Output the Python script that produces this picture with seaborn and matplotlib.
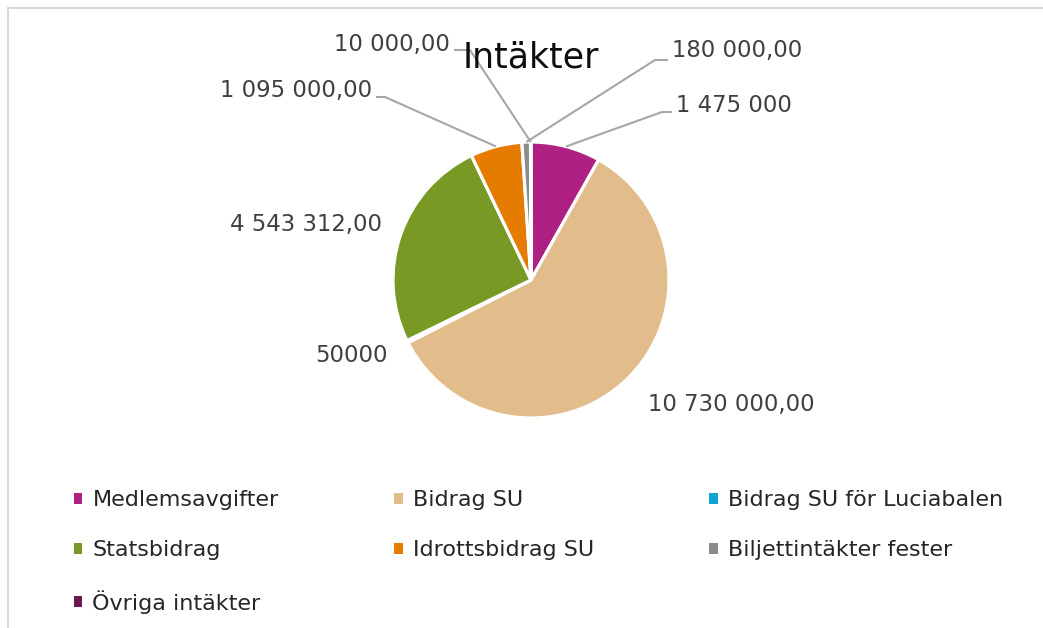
import matplotlib
matplotlib.use("Agg")
import matplotlib.pyplot as plt
import numpy as np
import seaborn as sns
from matplotlib.patches import Patch, Rectangle

# ---- data ----
categories = ["Medlemsavgifter", "Bidrag SU", "Bidrag SU för Luciabalen",
              "Statsbidrag", "Idrottsbidrag SU", "Biljettintäkter fester",
              "Övriga intäkter"]
values = [1475000, 10730000, 50000, 4543312, 1095000, 180000, 10000]
value_labels = ["1 475 000", "10 730 000,00", "50000", "4 543 312,00",
                "1 095 000,00", "180 000,00", "10 000,00"]
colors = ["#AE2183", "#E2BC8B", "#0FA3D6", "#789A25", "#E57C00", "#8C8C8C", "#6B1752"]

# ---- layout (pixels) ----
W, H = 1043, 628
CX, CY, R = 531, 280, 138

def px(x, y):
    # pixel position -> data coords (pie radius = 1)
    return (x - CX) / R, (CY - y) / R

# text x, text y, alignment, leader elbow (or None)
label_layout = [
    (676, 105, "left", (662, 112)),
    (648, 405, "left", None),
    (388, 355, "right", None),
    (382, 225, "right", None),
    (372, 90, "right", (385, 97)),
    (672, 50, "left", (655, 60)),
    (450, 45, "right", (470, 50)),
]

sns.set_theme(style="white")
plt.rcParams["font.family"] = ["DejaVu Sans"]

fig = plt.figure(figsize=(W / 100, H / 100), dpi=100)
ax = fig.add_axes([0, 0, 1, 1])

wedges, _ = ax.pie(values, colors=sns.color_palette(colors), startangle=90,
                   counterclock=False, radius=1, center=(0, 0),
                   wedgeprops=dict(edgecolor="white", linewidth=2.3))
ax.set_xlim(-CX / R, (W - CX) / R)
ax.set_ylim(-(H - CY) / R, CY / R)
ax.axis("off")

# data labels with leader lines
for w, txt, (tx, ty, ha, elbow) in zip(wedges, value_labels, label_layout):
    ax.text(*px(tx, ty), txt, ha=ha, va="center", fontsize=16.4, color="#404040")
    if elbow is not None:
        ang = np.deg2rad((w.theta1 + w.theta2) / 2)
        start = (np.cos(ang), np.sin(ang))
        ex, ey = px(*elbow)
        end_x = px(tx - 4 if ha == "left" else tx + 4, 0)[0]
        ax.plot([start[0], ex, end_x], [start[1], ey, ey],
                color="#A6A6A6", lw=1.5, solid_capstyle="butt")

fig.text(CX / W, 1 - 57 / H, "Intäkter", ha="center", va="center",
         fontsize=25, color="#0D0D0D")

# legend, filled row by row
order = [0, 3, 6, 1, 4, 2, 5]
handles = [Patch(facecolor=colors[i], edgecolor="none") for i in order]
fig.legend(handles, [categories[i] for i in order], ncol=3, loc="upper left",
           bbox_to_anchor=(74 / W, 1 - 490 / H), frameon=False, fontsize=16,
           handlelength=0.38, handleheight=0.38, handletextpad=0.45,
           columnspacing=5.2, labelspacing=1.35, borderaxespad=0, borderpad=0)

# light chart border
fig.patches.append(Rectangle((8 / W, -0.1), 1.2, 1.1 - 8 / H, transform=fig.transFigure,
                             fill=False, edgecolor="#D9D9D9", lw=1.5))

fig.savefig("out.png", dpi=100)
